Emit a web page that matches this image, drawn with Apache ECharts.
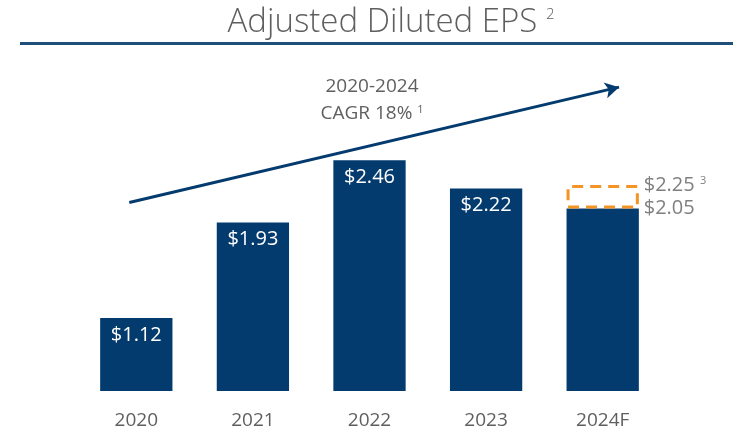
<!DOCTYPE html>
<html lang="en">
<head>
  <meta charset="UTF-8">
  <title>Adjusted Diluted EPS</title>
  <style>
    html, body { margin: 0; padding: 0; background: #fff; }
    #main { width: 733px; height: 433px; }
  </style>
</head>
<body>
  <div id="main"></div>

  <script src="https://cdn.jsdelivr.net/npm/echarts@6/dist/echarts.min.js"></script>
  <script>
    var years = ['2020', '2021', '2022', '2023', '2024F']
    var eps = [1.12, 1.93, 2.46, 2.22, 2.05]
    var epsHigh = [null, null, null, null, 2.25]   // upper end of 2024 guidance
    var cagrArrow = [[-0.06, 2.1], [4.14, 3.08]]    // trend arrow, in chart units

    var navy = '#043B6F'
    var grey = '#5F5F5F'
    var font = 'Open Sans'

    var extra = epsHigh.map(function (v, i) { return v == null ? null : +(v - eps[i]).toFixed(2) })

    var myChart = echarts.init(document.getElementById('main'))

    var options = {
      backgroundColor: '#fff',
      textStyle: { fontFamily: font },
      title: [
        {
          text: 'Adjusted Diluted EPS {s|2}',
          left: 386,
          textAlign: 'center',
          top: 1,
          textStyle: {
            fontFamily: font, fontSize: 33, fontWeight: 300, color: grey,
            rich: { s: { fontFamily: font, fontSize: 15, color: grey, padding: [0, 0, 16, 0] } }
          }
        },
        {
          text: '2020-2024\nCAGR 18% {s|1}',
          left: 367,
          textAlign: 'center',
          top: 68,
          textStyle: {
            fontFamily: font, fontSize: 19, fontWeight: 'normal', color: grey, lineHeight: 27, align: 'center',
            rich: { s: { fontFamily: font, fontSize: 11, color: grey, padding: [0, 0, 8, 0] } }
          }
        }
      ],
      graphic: [
        { type: 'rect', shape: { x: 20, y: 42, width: 713, height: 3 }, style: { fill: '#1F4E79' } }
      ],
      grid: { left: 78, right: 72, top: 73, bottom: 42 },
      xAxis: [
        {
          type: 'category',
          data: years,
          axisLine: { show: false },
          axisTick: { show: false },
          axisLabel: { fontFamily: font, fontSize: 19, color: grey, margin: 20 }
        },
        { type: 'value', min: -0.5, max: 4.5, show: false }
      ],
      yAxis: { type: 'value', min: 0.5, max: 3.2, show: false },
      series: [
        {
          type: 'bar',
          stack: 'eps',
          data: eps,
          barWidth: '62%',
          itemStyle: { color: navy },
          label: {
            show: true,
            position: 'insideTop',
            distance: 7,
            fontFamily: font,
            fontSize: 20,
            color: '#fff',
            formatter: function (p) { return p.dataIndex === 4 ? '' : '$' + p.value.toFixed(2) }
          }
        },
        {
          type: 'bar',
          stack: 'eps',
          data: extra,
          itemStyle: { color: 'transparent', borderColor: '#F39424', borderWidth: 3, borderType: [11, 7] }
        },
        {
          // value labels beside the forecast bar
          type: 'scatter',
          data: [[4, eps[4]], [4, epsHigh[4]]],
          symbolSize: 0,
          label: {
            show: true,
            position: 'right',
            offset: [36, 0],
            fontFamily: font,
            fontSize: 20,
            color: grey,
            formatter: function (p) {
              return p.dataIndex === 1 ? '$' + p.value[1].toFixed(2) + ' {s|3}' : '$' + p.value[1].toFixed(2)
            },
            rich: { s: { fontFamily: font, fontSize: 11, color: grey, padding: [0, 0, 9, 0] } }
          }
        },
        {
          type: 'line',
          xAxisIndex: 1,
          data: [],
          markLine: {
            silent: true,
            symbol: ['none', 'arrow'],
            symbolSize: [12, 14],
            label: { show: false },
            lineStyle: { color: navy, width: 3, type: 'solid' },
            data: [[{ coord: cagrArrow[0] }, { coord: cagrArrow[1] }]]
          }
        }
      ]
    }
    myChart.setOption(options)
  </script>
</body>
</html>
